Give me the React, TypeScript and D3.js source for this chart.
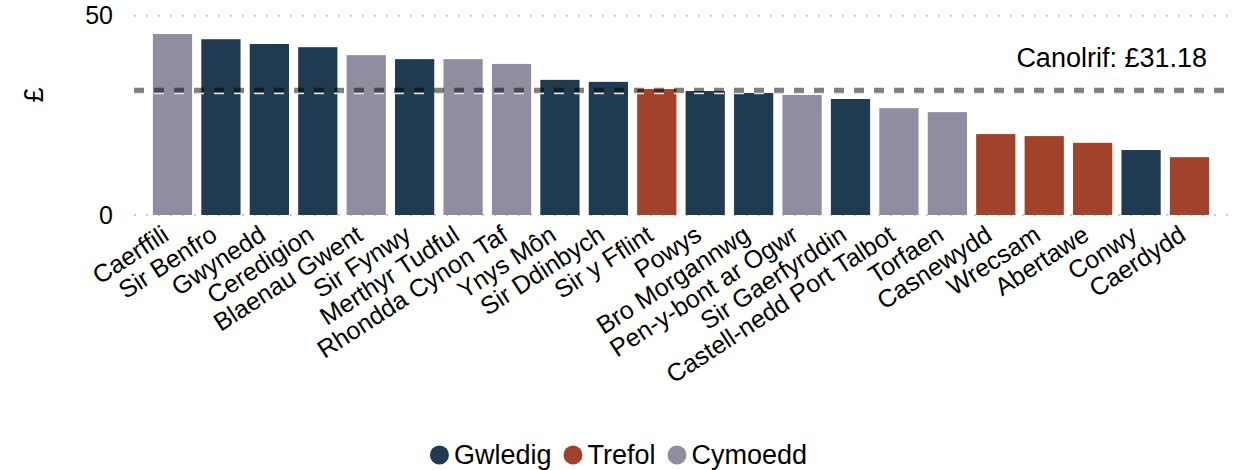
import React, { useRef, useEffect } from 'react';
import * as d3 from 'd3';

// awdurdodau lleol, wedi'u trefnu o'r uchaf i'r isaf
const areas = [
  'Caerffili', 'Sir Benfro', 'Gwynedd', 'Ceredigion', 'Blaenau Gwent', 'Sir Fynwy',
  'Merthyr Tudful', 'Rhondda Cynon Taf', 'Ynys Môn', 'Sir Ddinbych', 'Sir y Fflint',
  'Powys', 'Bro Morgannwg', 'Pen-y-bont ar Ogwr', 'Sir Gaerfyrddin',
  'Castell-nedd Port Talbot', 'Torfaen', 'Casnewydd', 'Wrecsam', 'Abertawe', 'Conwy', 'Caerdydd',
];
const values = [
  45.4, 44.1, 42.9, 42.1, 40.1, 39.1, 39.1, 37.9, 33.9, 33.4, 31.6,
  31.1, 30.6, 30.1, 29.1, 26.8, 25.8, 20.3, 19.8, 18.1, 16.3, 14.5,
];
const groups = [
  'Cymoedd', 'Gwledig', 'Gwledig', 'Gwledig', 'Cymoedd', 'Gwledig', 'Cymoedd', 'Cymoedd',
  'Gwledig', 'Gwledig', 'Trefol', 'Gwledig', 'Gwledig', 'Cymoedd', 'Gwledig', 'Cymoedd',
  'Cymoedd', 'Trefol', 'Trefol', 'Trefol', 'Gwledig', 'Trefol',
];
const groupNames = ['Gwledig', 'Trefol', 'Cymoedd'];
const groupColors = ['#1f3a51', '#a1432b', '#908da1'];
const yTicks = [0, 50];
const median = 31.18;

const FONT = '"Liberation Sans", Arial, sans-serif';

export default function App() {
  const svgRef = useRef<SVGSVGElement>(null);

  useEffect(() => {
    const width = 1237;
    const height = 470;
    const svg = d3.select(svgRef.current);
    svg.selectAll('*').remove();
    svg.attr('width', width).attr('height', height).style('font-family', FONT);

    const data = areas.map((name, i) => ({ name, value: values[i], group: groups[i] }));

    const x = d3.scaleBand<string>()
      .domain(areas)
      .range([134, 1228])
      .paddingInner(0.19)
      .paddingOuter(0.39);
    const y = d3.scaleLinear().domain([0, 50]).range([215, 15.7]);
    const color = d3.scaleOrdinal<string, string>().domain(groupNames).range(groupColors);

    // llinellau grid dotiog
    svg.append('g')
      .selectAll('line')
      .data(yTicks)
      .enter().append('line')
      .attr('x1', 134)
      .attr('x2', 1228)
      .attr('y1', d => y(d))
      .attr('y2', d => y(d))
      .attr('stroke', '#cccccc')
      .attr('stroke-width', 2)
      .attr('stroke-dasharray', '2,10');

    svg.append('g')
      .selectAll('text')
      .data(yTicks)
      .enter().append('text')
      .attr('x', 113)
      .attr('y', d => y(d))
      .attr('dy', '0.35em')
      .attr('text-anchor', 'end')
      .style('font-size', '25px')
      .text(d => d);

    svg.append('text')
      .attr('transform', 'translate(43,95) rotate(-90)')
      .attr('text-anchor', 'middle')
      .style('font-size', '27px')
      .text('£');

    // barrau
    svg.append('g')
      .selectAll('rect')
      .data(data)
      .enter().append('rect')
      .attr('x', d => x(d.name)!)
      .attr('y', d => y(d.value))
      .attr('width', x.bandwidth())
      .attr('height', d => y(0) - y(d.value))
      .attr('fill', d => color(d.group));

    // labeli echel x
    svg.append('g')
      .selectAll('text')
      .data(areas)
      .enter().append('text')
      .attr('transform', d => `translate(${x(d)! + x.bandwidth() / 2 - 2},239) rotate(-33)`)
      .attr('text-anchor', 'end')
      .style('font-size', '25px')
      .text(d => d);

    // llinell y canolrif
    svg.append('line')
      .attr('x1', 134)
      .attr('x2', 1228)
      .attr('y1', y(median) + 2.5)
      .attr('y2', y(median) + 2.5)
      .attr('stroke', '#e4e4e4')
      .attr('stroke-width', 2)
      .attr('stroke-dasharray', '10,10');
    svg.append('line')
      .attr('x1', 134)
      .attr('x2', 1228)
      .attr('y1', y(median) - 0.5)
      .attr('y2', y(median) - 0.5)
      .attr('stroke', '#000')
      .attr('stroke-opacity', 0.5)
      .attr('stroke-width', 5)
      .attr('stroke-dasharray', '10,10');

    svg.append('text')
      .attr('x', 1207)
      .attr('y', 67)
      .attr('text-anchor', 'end')
      .style('font-size', '27px')
      .text(`Canolrif: £${median.toFixed(2)}`);

    // allwedd
    const legend = svg.append('g');
    let cx = 0;
    groupNames.forEach((g, i) => {
      const item = legend.append('g').attr('transform', `translate(${cx},0)`);
      item.append('circle').attr('cx', 9.5).attr('cy', 0).attr('r', 9.5).attr('fill', groupColors[i]);
      const t = item.append('text')
        .attr('x', 24)
        .attr('y', 9)
        .style('font-size', '27px')
        .text(g);
      const w = (t.node() as SVGTextElement).getComputedTextLength();
      cx += 24 + w + 12;
    });
    const total = cx - 12;
    legend.attr('transform', `translate(${(width - total) / 2},455)`);
  }, []);

  return (
    <svg ref={svgRef} style={{ position: 'absolute', left: 0, top: 0, background: '#fff' }} />
  );
}
